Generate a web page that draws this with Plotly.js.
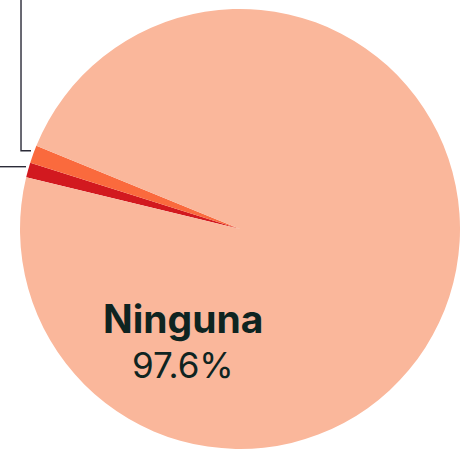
<!DOCTYPE html>
<html>
<head>
<meta charset="utf-8">
<script src="https://cdn.plot.ly/plotly-3.0.1.min.js"></script>
<style>
html,body{margin:0;padding:0;background:#fff;}
#chart{width:460px;height:452px;}
</style>
</head>
<body>
<div id="chart"></div>
<script>
// Data
var labels = ['Dos o más', 'Una', 'Ninguna'];
var values = [1.1, 1.3, 97.6];
var sliceColors = ['#d2191f', '#fa6a3d', '#fab79b'];
var mainLabel = 'Ninguna';
var mainValue = '97.6%';

var trace = {
  type: 'pie',
  labels: labels,
  values: values,
  sort: false,
  direction: 'clockwise',
  rotation: -76.4,
  marker: {colors: sliceColors, line: {width: 0}},
  textinfo: 'none',
  hoverinfo: 'label+percent',
  showlegend: false
};

var lineColor = '#2b2b38';
var layout = {
  width: 460,
  height: 452,
  margin: {l: 20, r: 0, t: 9, b: 3},
  paper_bgcolor: '#ffffff',
  showlegend: false,
  shapes: [
    {type: 'path', xref: 'paper', yref: 'paper',
     path: 'M 0.0023 1.03 L 0.0023 0.678 L 0.025 0.678',
     line: {color: lineColor, width: 1.4}},
    {type: 'line', xref: 'paper', yref: 'paper',
     x0: -0.05, x1: 0.0136, y0: 0.6416, y1: 0.6416,
     line: {color: lineColor, width: 1.4}}
  ],
  annotations: [
    {xref: 'paper', yref: 'paper', x: 0.3705, y: 0.2955, xanchor: 'center', yanchor: 'middle',
     text: '<b>' + mainLabel + '</b>', showarrow: false,
     font: {family: 'Inter, "Noto Sans", sans-serif', size: 39, color: '#0e2421'}},
    {xref: 'paper', yref: 'paper', x: 0.3705, y: 0.192, xanchor: 'center', yanchor: 'middle',
     text: mainValue, showarrow: false,
     font: {family: 'Inter, "Noto Sans", sans-serif', size: 35, color: '#0e2421'}}
  ]
};

Plotly.newPlot('chart', [trace], layout, {displayModeBar: false, staticPlot: true});
</script>
</body>
</html>
